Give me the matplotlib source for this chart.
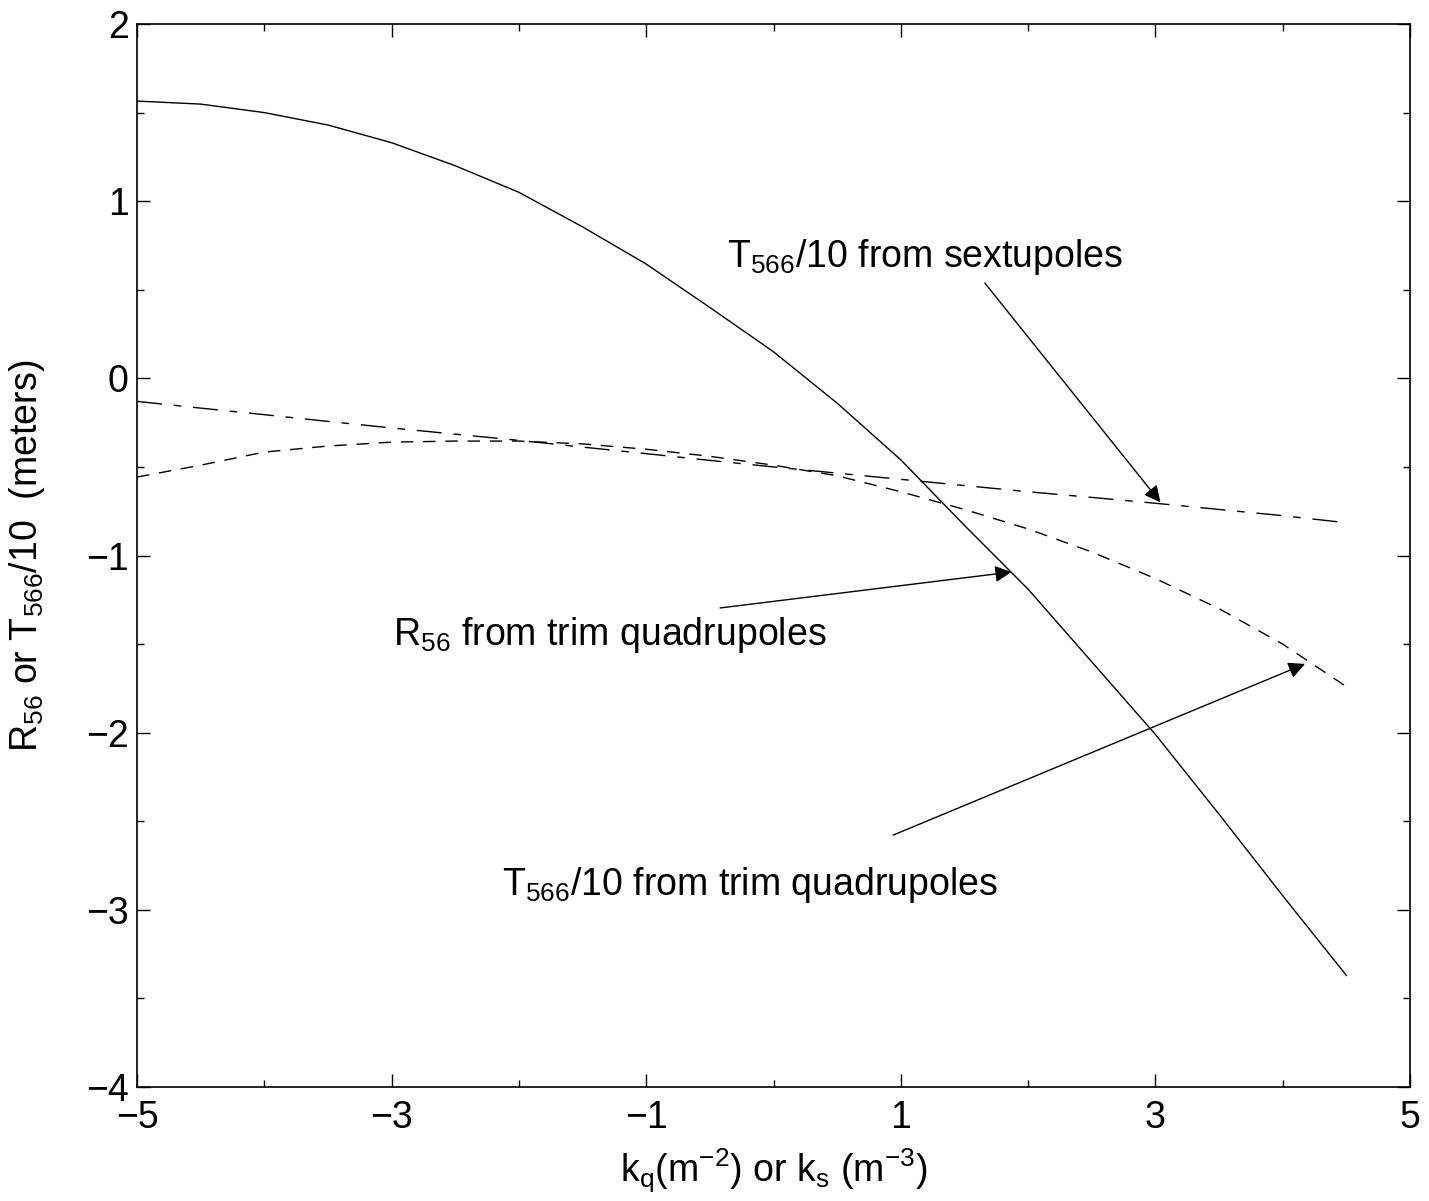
import matplotlib
matplotlib.use("Agg")
import matplotlib.pyplot as plt

plt.rcParams["font.family"] = ["Liberation Sans", "DejaVu Sans"]
plt.rcParams["mathtext.fontset"] = "custom"
plt.rcParams["mathtext.rm"] = "Liberation Sans"
plt.rcParams["mathtext.it"] = "Liberation Sans"
plt.rcParams["mathtext.default"] = "rm"

# data
k = [-5.0, -4.5, -4.0, -3.5, -3.0, -2.5, -2.0, -1.5, -1.0, -0.5,
     0.0, 0.5, 1.0, 1.5, 2.0, 2.5, 3.0, 3.5, 4.0, 4.5]

r56_quad = [1.565, 1.548, 1.50, 1.43, 1.33, 1.20, 1.05, 0.855, 0.645, 0.40,
            0.15, -0.14, -0.46, -0.83, -1.19, -1.60, -2.01, -2.46, -2.92, -3.37]

t566_quad = [-0.557, -0.49, -0.416, -0.382, -0.36, -0.354, -0.354, -0.37, -0.40, -0.44,
             -0.49, -0.55, -0.64, -0.74, -0.85, -0.98, -1.13, -1.30, -1.50, -1.74]

t566_sext = [-0.13, -0.168, -0.205, -0.243, -0.28, -0.315, -0.35, -0.388, -0.425, -0.463,
             -0.50, -0.535, -0.57, -0.605, -0.64, -0.672, -0.705, -0.74, -0.775, -0.815]

xticks = [-5, -3, -1, 1, 3, 5]
xminor = [-4, -2, 0, 2, 4]
yticks = [-4, -3, -2, -1, 0, 1, 2]
yminor = [-3.5, -2.5, -1.5, -0.5, 0.5, 1.5]

fig = plt.figure(figsize=(14.29, 12.01), dpi=100)
ax = fig.add_axes([0.0959, 0.0949, 0.8908, 0.8851])

ax.plot(k, r56_quad, color="black", lw=1.0)
ax.plot(k, t566_quad, color="black", lw=1.0, dashes=(9, 7))
ax.plot(k, t566_sext, color="black", lw=1.0, dashes=(18, 8.5, 5.5, 8.5))

arrow = dict(arrowstyle="-|>,head_length=0.5,head_width=0.25", mutation_scale=20,
             color="black", lw=1.0, shrinkA=0, shrinkB=0)
ax.annotate("", xy=(3.04, -0.70), xytext=(1.66, 0.538), arrowprops=arrow)
ax.annotate("", xy=(1.87, -1.093), xytext=(-0.42, -1.296), arrowprops=arrow)
ax.annotate("", xy=(4.175, -1.612), xytext=(0.94, -2.578), arrowprops=arrow)

fs = 27
ax.text(-0.365, 0.628, r"T$_{566}$/10 from sextupoles", fontsize=fs)
ax.text(-2.99, -1.505, r"R$_{56}$ from trim quadrupoles", fontsize=fs)
ax.text(-2.133, -2.916, r"T$_{566}$/10 from trim quadrupoles", fontsize=fs)

ax.set_xlim(-5, 5)
ax.set_ylim(-4, 2)
ax.set_xticks(xticks)
ax.set_xticks(xminor, minor=True)
ax.set_yticks(yticks)
ax.set_yticks(yminor, minor=True)
ax.tick_params(which="both", direction="in", top=True, right=True, labelsize=fs)
ax.tick_params(which="major", length=9.5, width=1.0)
ax.tick_params(which="minor", length=5, width=1.0)
ax.tick_params(axis="x", pad=9)
ax.tick_params(axis="y", pad=6)
for s in ax.spines.values():
    s.set_linewidth(1.2)

ax.set_xlabel(r"k$_q$(m$^{-2}$) or k$_s$ (m$^{-3}$)", fontsize=fs, labelpad=8)
ax.set_ylabel(r"R$_{56}$ or T$_{566}$/10  (meters)", fontsize=fs, labelpad=28)

fig.savefig("out.png", dpi=100)
